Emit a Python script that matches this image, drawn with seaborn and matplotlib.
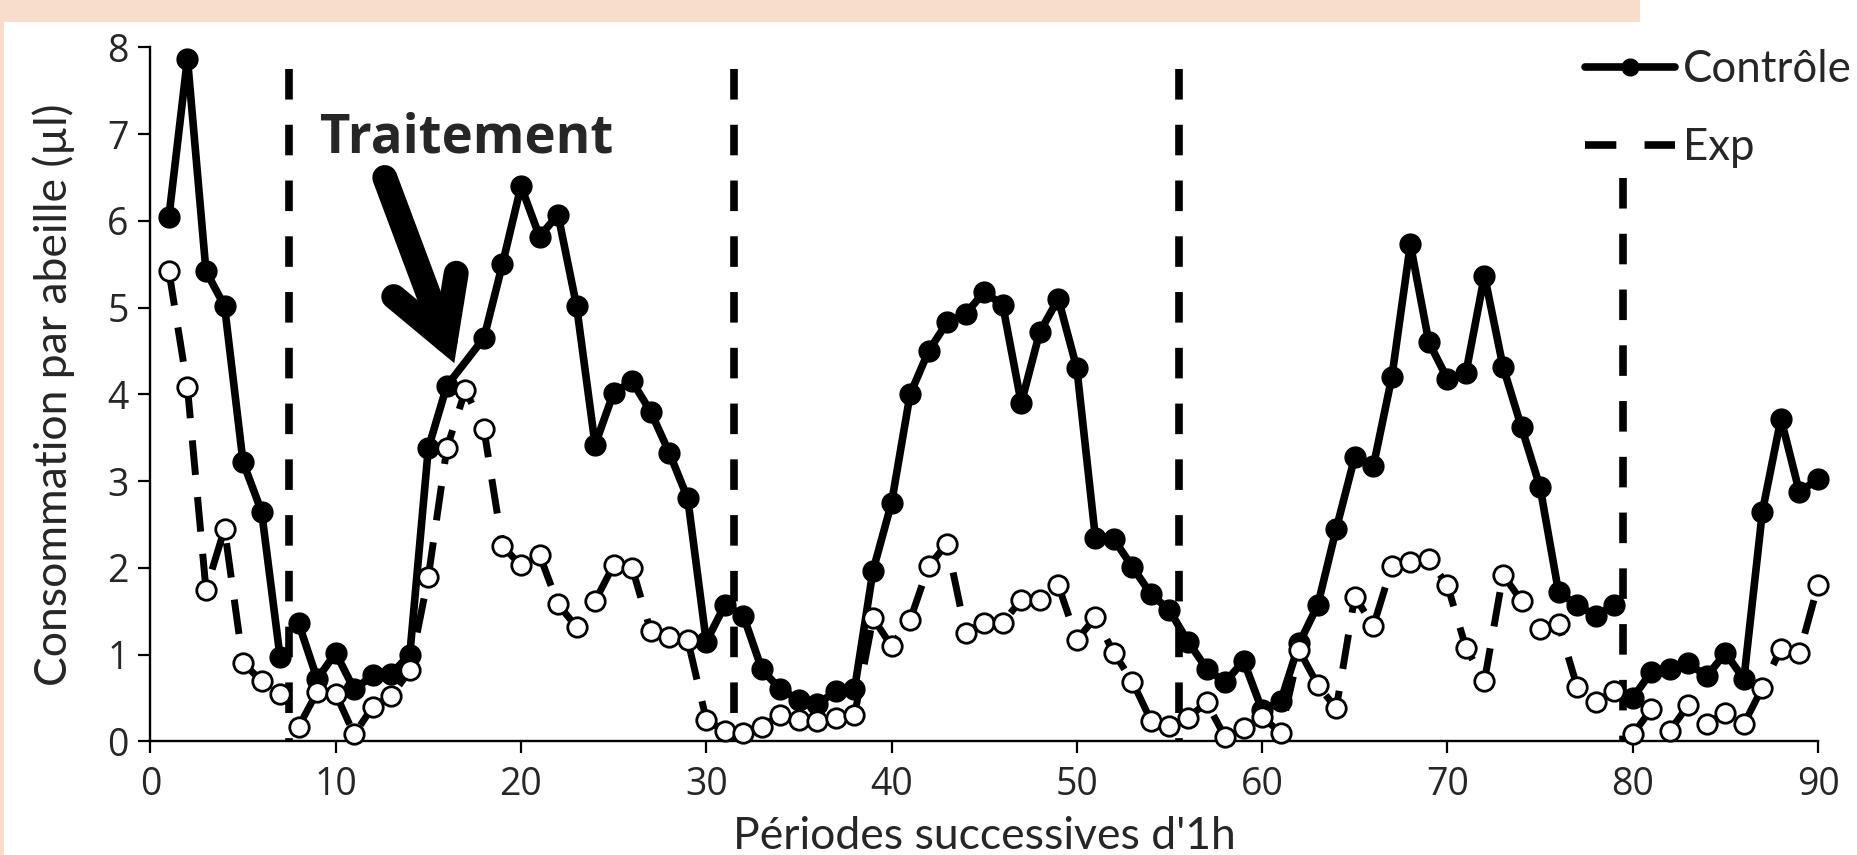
import numpy as np
import pandas as pd
import matplotlib
matplotlib.use("Agg")
import matplotlib.pyplot as plt
import seaborn as sns
from matplotlib.lines import Line2D
from matplotlib.patches import Rectangle

# ---------------- data ----------------
periods = list(range(1, 91))
controle = [6.05, 7.87, 5.42, 5.02, 3.22, 2.65, 0.97, 1.36, 0.72, 1.02,
            0.60, 0.76, 0.78, 1.00, 3.38, 4.10, None, 4.65, 5.50, 6.40,
            5.82, 6.07, 5.02, 3.42, 4.02, 4.15, 3.80, 3.33, 2.80, 1.15,
            1.57, 1.45, 0.83, 0.60, 0.48, 0.43, 0.58, 0.60, 1.97, 2.75,
            4.00, 4.50, 4.83, 4.93, 5.18, 5.03, 3.90, 4.72, 5.10, 4.30,
            2.35, 2.33, 2.01, 1.70, 1.51, 1.15, 0.84, 0.68, 0.93, 0.36,
            0.46, 1.13, 1.57, 2.45, 3.28, 3.17, 4.20, 5.73, 4.60, 4.18,
            4.25, 5.37, 4.32, 3.62, 2.93, 1.72, 1.57, 1.45, 1.57, 0.50,
            0.80, 0.83, 0.90, 0.75, 1.02, 0.72, 2.65, 3.72, 2.87, 3.03]
experience = [5.42, 4.08, 1.75, 2.45, 0.90, 0.70, 0.55, 0.17, 0.57, 0.55,
              0.08, 0.40, 0.52, 0.82, 1.90, 3.38, 4.05, 3.60, 2.25, 2.03,
              2.15, 1.58, 1.32, 1.62, 2.03, 2.00, 1.27, 1.20, 1.17, 0.25,
              0.12, 0.10, 0.17, 0.30, 0.25, 0.23, 0.27, 0.30, 1.42, 1.10,
              1.40, 2.02, 2.28, 1.25, 1.37, 1.37, 1.63, 1.63, 1.80, 1.17,
              1.43, 1.02, 0.69, 0.24, 0.18, 0.27, 0.45, 0.05, 0.15, 0.28,
              0.10, 1.05, 0.65, 0.38, 1.67, 1.33, 2.02, 2.07, 2.10, 1.80,
              1.08, 0.70, 1.92, 1.62, 1.30, 1.35, 0.63, 0.45, 0.58, 0.08,
              0.37, 0.12, 0.42, 0.20, 0.33, 0.20, 0.62, 1.07, 1.02, 1.80]
segment_breaks = [7.5, 79.5]          # lines are interrupted here
boundaries = [7.5, 31.5, 55.5, 79.5]  # vertical dashed separators
boundary_tops = [7.75, 7.75, 7.75, 6.5]
x_ticks = [0, 10, 20, 30, 40, 50, 60, 70, 80, 90]
y_ticks = [0, 1, 2, 3, 4, 5, 6, 7, 8]
labels = ["Contrôle", "Exp"]

seg = np.searchsorted(segment_breaks, periods)
df_c = pd.DataFrame({"period": periods, "value": controle, "seg": seg}).dropna()
df_e = pd.DataFrame({"period": periods, "value": experience, "seg": seg}).dropna()

# ---------------- style ----------------
sns.set_style("ticks")
plt.rcParams["font.family"] = ["Lato", "DejaVu Sans"]

W, H = 1857, 855
fig = plt.figure(figsize=(W / 100, H / 100), dpi=100)
fig.patch.set_facecolor("white")
peach = "#F8DDCC"
fig.add_artist(Rectangle((0, 1 - 22 / H), 1640 / W, 22 / H, transform=fig.transFigure,
                         facecolor=peach, edgecolor="none", zorder=0))
fig.add_artist(Rectangle((0, 0), 3.5 / W, 1, transform=fig.transFigure,
                         facecolor=peach, edgecolor="none", zorder=0))

left, right = 150.4 / W, 1818 / W
bottom, top = 1 - 741.4 / H, 1 - 47.4 / H
ax = fig.add_axes([left, bottom, right - left, top - bottom])
ax.set_facecolor("none")

# vertical separators
for xb, yt in zip(boundaries, boundary_tops):
    ax.plot([xb, xb], [yt, 0], color="black", lw=5.5,
            linestyle=(0, (4.0, 3.3)), solid_capstyle="butt", zorder=1)

sns.lineplot(data=df_c, x="period", y="value", units="seg", estimator=None,
             color="black", lw=5.5, marker="o", markersize=15,
             markerfacecolor="black", mec="black", mew=1.0,
             legend=False, ax=ax, clip_on=False, zorder=3)
sns.lineplot(data=df_e, x="period", y="value", units="seg", estimator=None,
             color="black", lw=5.0, linestyle=(0, (5, 3.2)), marker="o",
             markersize=14, markerfacecolor="white", mec="black", mew=2.0,
             legend=False, ax=ax, clip_on=False, zorder=4)

ax.set_xlim(0, 90)
ax.set_ylim(0, 8)
ax.set_xticks(x_ticks)
ax.set_yticks(y_ticks)
for s in ["top", "right"]:
    ax.spines[s].set_visible(False)
for s in ["left", "bottom"]:
    ax.spines[s].set_linewidth(1.7)
    ax.spines[s].set_color("black")
ax.tick_params(axis="both", direction="out", length=8.5, width=1.6,
               color="black", labelsize=27, pad=7)
ax.tick_params(axis="x", pad=9)
for lab in ax.get_xticklabels() + ax.get_yticklabels():
    lab.set_fontfamily("Open Sans")

ax.set_xlabel("Périodes successives d'1h", fontsize=32, family="Lato")
ax.set_ylabel("Consommation par abeille (µl)", fontsize=32, family="Lato")
ax.xaxis.set_label_coords(0.5, -0.108)
ax.yaxis.set_label_coords(-0.045, 0.5)

# annotation
ax.text(9.15, 6.79, "Traitement", fontsize=38, fontweight="bold",
        family="Open Sans", ha="left", va="baseline")
ax.annotate("", xy=(16.4, 4.36), xytext=(12.65, 6.5),
            arrowprops=dict(arrowstyle="->,head_length=0.42,head_width=0.24",
                            lw=18, color="black", shrinkA=0, shrinkB=0,
                            mutation_scale=100, capstyle="round",
                            joinstyle="miter"))

# legend
handles = [Line2D([], [], color="black", lw=5.5, marker="o", markersize=12),
           Line2D([], [], color="black", lw=5.5, linestyle=(0, (4.1, 3.7)))]
fig.legend(handles, labels, loc="upper left", bbox_to_anchor=(1585 / W, 1 - 49 / H),
           frameon=False, fontsize=31.5, handlelength=2.05, handletextpad=0.18,
           labelspacing=0.85, borderpad=0, borderaxespad=0)

fig.savefig("out.png", dpi=100, facecolor="white")
